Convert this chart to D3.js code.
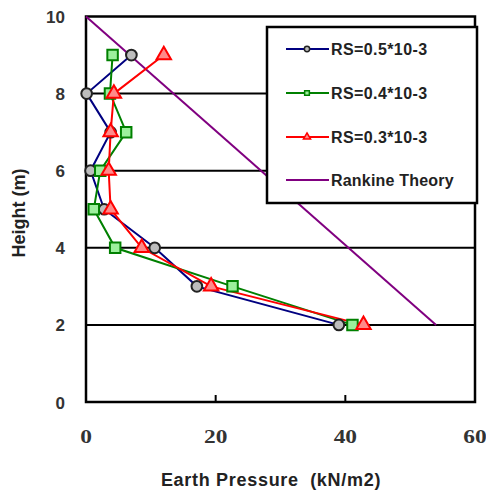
<!DOCTYPE html>
<html><head><meta charset="utf-8">
<script src="https://cdn.jsdelivr.net/npm/d3@7"></script>
<style>body{margin:0;background:#fff}svg{display:block}</style>
</head><body>
<svg id="c" width="486" height="492"></svg>
<script>
const heights = [9, 8, 7, 6, 5, 4, 3, 2];
const rs05 = [7.0, 0.1, 3.8, 0.7, 2.8, 10.6, 17.1, 39.0];
const rs04 = [4.1, 3.7, 6.2, 2.2, 1.2, 4.5, 22.6, 41.1];
const rs03 = [12.0, 4.3, 3.8, 3.5, 3.8, 8.6, 19.3, 42.8];
const rankineP = [0, 54];
const rankineH = [10, 2];
const xTicks = [0, 20, 40, 60];
const yTicks = [0, 2, 4, 6, 8, 10];
const seriesNames = ["RS=0.5*10-3", "RS=0.4*10-3", "RS=0.3*10-3", "Rankine Theory"];

const svg = d3.select("#c");
const L = 86, R = 475, T = 16.5, B = 402;
const x = d3.scaleLinear().domain([0, 60]).range([L, R]);
const y = d3.scaleLinear().domain([0, 10]).range([B, T]);

// gridlines
svg.append("g").selectAll("line").data(yTicks.filter(v => v > 0 && v < 10)).join("line")
  .attr("x1", L).attr("x2", R).attr("y1", d => y(d)).attr("y2", d => y(d))
  .attr("stroke", "#000").attr("stroke-width", 2);

// frame
svg.append("rect").attr("x", L).attr("y", T).attr("width", R - L).attr("height", B - T)
  .attr("fill", "none").attr("stroke", "#000").attr("stroke-width", 2.5);

// x ticks inward
svg.append("g").selectAll("line").data(xTicks.slice(1, -1)).join("line")
  .attr("x1", d => x(d)).attr("x2", d => x(d)).attr("y1", B).attr("y2", B - 7)
  .attr("stroke", "#000").attr("stroke-width", 2);

// tick labels
svg.append("g").selectAll("text").data(xTicks).join("text")
  .attr("transform", d => `translate(${x(d)},443) scale(1.3,1)`).attr("text-anchor", "middle")
  .attr("font-family", "Liberation Serif, Times New Roman, serif").attr("font-weight", "bold")
  .attr("font-size", 18).attr("fill", "#333").text(d => d);
svg.append("g").selectAll("text").data(yTicks).join("text")
  .attr("x", 65).attr("y", d => y(d) + 6.5).attr("text-anchor", "end")
  .attr("font-family", "Liberation Sans, Arial, sans-serif").attr("font-weight", "bold")
  .attr("font-size", 17).attr("fill", "#333").text(d => d);

// axis titles
svg.append("text").attr("x", 271).attr("y", 486).attr("text-anchor", "middle")
  .attr("font-family", "Liberation Sans, Arial, sans-serif").attr("font-weight", "bold")
  .attr("font-size", 18).attr("letter-spacing", 0.7).attr("fill", "#222")
  .attr("xml:space", "preserve").text("Earth Pressure  (kN/m2)");
svg.append("text").attr("transform", "translate(25,213) rotate(-90)").attr("text-anchor", "middle")
  .attr("font-family", "Liberation Sans, Arial, sans-serif").attr("font-weight", "bold")
  .attr("font-size", 18).attr("fill", "#222").text("Height (m)");

// rankine
const line = d3.line().x(d => x(d[0])).y(d => y(d[1]));
svg.append("path").datum(rankineP.map((p, i) => [p, rankineH[i]])).attr("d", line)
  .attr("fill", "none").attr("stroke", "#800080").attr("stroke-width", 2);

const series = [
  {vals: rs05, stroke: "#000080", mstroke: "#222", fill: "#bdbdbd", shape: d3.symbolCircle, size: 90},
  {vals: rs04, stroke: "#008000", mstroke: "#008000", fill: "#9cf09c", shape: d3.symbolSquare, size: 110},
  {vals: rs03, stroke: "#ff0000", mstroke: "#ff0000", fill: "#ff8a8a", shape: d3.symbolTriangle, size: 90}
];

series.forEach(s => {
  const pts = s.vals.map((v, i) => [v, heights[i]]);
  svg.append("path").datum(pts).attr("d", line).attr("fill", "none")
    .attr("stroke", s.stroke).attr("stroke-width", 2);
});
series.forEach(s => {
  const pts = s.vals.map((v, i) => [v, heights[i]]);
  svg.append("g").selectAll("path").data(pts).join("path")
    .attr("transform", d => `translate(${x(d[0])},${y(d[1])})`)
    .attr("d", d3.symbol().type(s.shape).size(s.size))
    .attr("fill", s.fill).attr("stroke", s.mstroke).attr("stroke-width", 2);
});

// legend
const lg = svg.append("g");
lg.append("rect").attr("x", 267).attr("y", 27).attr("width", 210).attr("height", 176)
  .attr("fill", "#fff").attr("stroke", "#000").attr("stroke-width", 2.5);
const rowsY = [49, 93, 137, 180];
seriesNames.forEach((name, i) => {
  const yy = rowsY[i];
  const col = i < 3 ? series[i].stroke : "#800080";
  lg.append("line").attr("x1", 286).attr("x2", 329).attr("y1", yy).attr("y2", yy)
    .attr("stroke", col).attr("stroke-width", 2);
  if (i < 3) {
    lg.append("path").attr("transform", `translate(307,${yy})`)
      .attr("d", d3.symbol().type(series[i].shape).size(22))
      .attr("fill", series[i].fill).attr("stroke", series[i].mstroke).attr("stroke-width", 1.5);
  }
  lg.append("text").attr("x", 331).attr("y", yy + 6)
    .attr("font-family", "Liberation Sans, Arial, sans-serif").attr("font-weight", "bold")
    .attr("font-size", 16).attr("fill", "#222").attr("letter-spacing", i < 3 ? 0.4 : 0.2)
    .text(name);
});
</script>
</body></html>
